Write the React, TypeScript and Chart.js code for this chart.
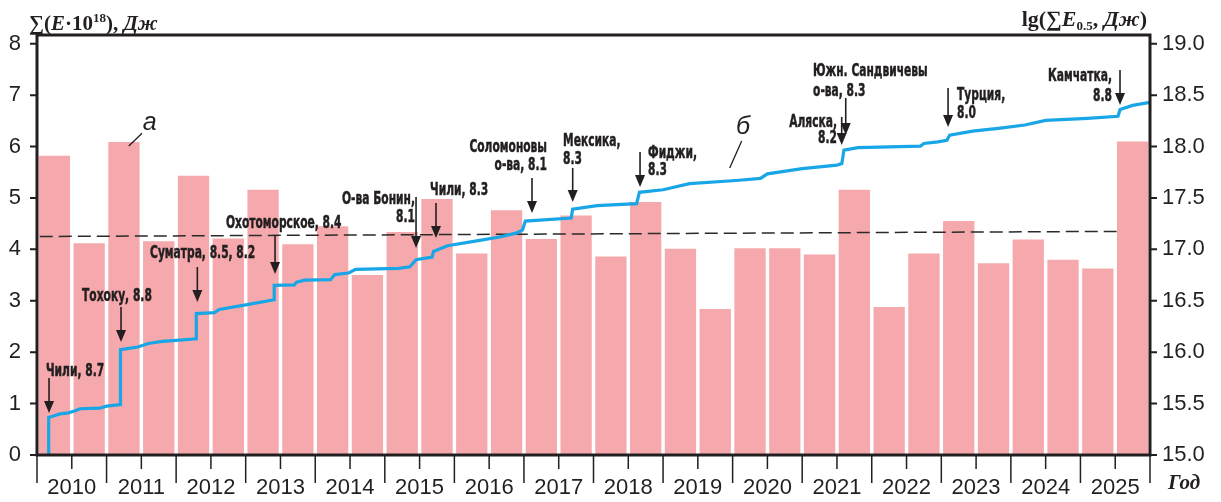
import React, { useEffect, useRef } from 'react';
import { Chart, registerables } from 'chart.js';

Chart.register(...registerables);

// ---- Data ----
const halfYearCenters = [
  2010.25, 2010.75, 2011.25, 2011.75, 2012.25, 2012.75, 2013.25, 2013.75,
  2014.25, 2014.75, 2015.25, 2015.75, 2016.25, 2016.75, 2017.25, 2017.75,
  2018.25, 2018.75, 2019.25, 2019.75, 2020.25, 2020.75, 2021.25, 2021.75,
  2022.25, 2022.75, 2023.25, 2023.75, 2024.25, 2024.75, 2025.25, 2025.75,
];
const halfYearEnergy = [
  5.82, 4.12, 6.09, 4.16, 5.43, 4.21, 5.16, 4.1,
  4.45, 3.5, 4.34, 4.98, 3.92, 4.76, 4.2, 4.66,
  3.86, 4.92, 4.01, 2.84, 4.02, 4.02, 3.9, 5.16,
  2.88, 3.92, 4.55, 3.73, 4.19, 3.8, 3.63, 6.1,
];

const cumTimes = [
  2010.168, 2010.168, 2010.26, 2010.33, 2010.45, 2010.55, 2010.62, 2010.9, 2011.0, 2011.2,
  2011.2, 2011.45, 2011.6, 2011.8, 2012.0, 2012.29,
  2012.29, 2012.55, 2012.62, 2013.0, 2013.41,
  2013.41, 2013.7, 2013.73, 2013.85, 2014.22, 2014.28, 2014.48, 2014.58, 2015.2, 2015.36,
  2015.45, 2015.68, 2015.7, 2015.9, 2016.3, 2016.65, 2016.9, 2016.98,
  2017.02, 2017.68, 2017.7, 2018.05, 2018.62, 2018.66, 2019.0, 2019.38, 2020.05, 2020.4,
  2020.5, 2021.0, 2021.5, 2021.57, 2021.6, 2021.8, 2022.7, 2022.75, 2022.95, 2023.08,
  2023.12, 2023.45, 2023.85, 2024.2, 2024.5, 2025.1, 2025.54, 2025.57, 2025.75, 2026.0,
];
const cumLogEnergy = [
  15.0, 15.365, 15.385, 15.4, 15.41, 15.43, 15.45, 15.455, 15.475, 15.49,
  16.025, 16.05, 16.085, 16.105, 16.115, 16.13,
  16.375, 16.385, 16.415, 16.46, 16.51,
  16.65, 16.655, 16.68, 16.7, 16.705, 16.755, 16.77, 16.805, 16.815, 16.83,
  16.9, 16.925, 16.98, 17.035, 17.08, 17.12, 17.16, 17.19,
  17.275, 17.305, 17.39, 17.425, 17.445, 17.555, 17.58, 17.64, 17.67, 17.69,
  17.735, 17.785, 17.82, 17.835, 17.965, 17.99, 18.005, 18.03, 18.045, 18.06,
  18.11, 18.15, 18.18, 18.21, 18.255, 18.275, 18.295, 18.36, 18.4, 18.43,
];

const meanTimes = [2010.04, 2025.52];
const meanEnergy = [4.25, 4.35];

const leftTicks = [0, 1, 2, 3, 4, 5, 6, 7, 8];
const rightTicks = [15.0, 15.5, 16.0, 16.5, 17.0, 17.5, 18.0, 18.5, 19.0];
const yearLabels = ['2010', '2011', '2012', '2013', '2014', '2015', '2016', '2017',
  '2018', '2019', '2020', '2021', '2022', '2023', '2024', '2025'];

// Earthquake annotations (text lines, text anchor in data units, arrow in data units)
const quakeLines = [
  ['Чили, 8.7'],
  ['Тохоку, 8.8'],
  ['Суматра, 8.5, 8.2'],
  ['Охотоморское, 8.4'],
  ['О-ва Бонин,', '8.1'],
  ['Чили, 8.3'],
  ['Соломоновы', 'о-ва, 8.1'],
  ['Мексика,', '8.3'],
  ['Фиджи,', '8.3'],
  ['Южн. Сандвичевы', 'о-ва, 8.3'],
  ['Аляска,', '8.2'],
  ['Турция,', '8.0'],
  ['Камчатка,', '8.8'],
];
const quakeTextX = [2010.129, 2010.647, 2011.625, 2012.717, 2015.434, 2015.65, 2017.332, 2017.562, 2018.784, 2021.156, 2021.501, 2023.226, 2025.454];
const quakeTextY = [1.634, 3.084, 3.92, 4.504, 4.981, 5.146, 5.992, 6.099, 5.875, 7.461, 6.469, 7.004, 7.364];
const quakeLineGap = [0, 0, 0, 0, 0.36, 0, 0.35, 0.34, 0.33, 0.38, 0.31, 0.36, 0.38];
const quakeAlign = ['left', 'left', 'left', 'left', 'right', 'left', 'right', 'left', 'left', 'left', 'right', 'left', 'right'];
const arrowX = [2010.173, 2011.208, 2012.305, 2013.422, 2015.449, 2015.736, 2017.116, 2017.701, 2018.669, 2021.626, 2021.568, 2023.097, 2025.569];
const arrowTop = [1.498, 2.879, 3.658, 4.28, 5.019, 4.903, 5.389, 5.584, 5.895, 6.946, 6.576, 7.14, 7.49];
const arrowBottom = [0.817, 2.198, 2.977, 3.521, 4.027, 4.222, 4.708, 4.922, 5.214, 6.226, 6.031, 6.381, 6.809];

const INK = '#231f20';
const BAR = '#f6a9ac';
const BLUE = '#19a6e6';
const NARROW = 'bold 18px "Liberation Sans Narrow", "DejaVu Sans Condensed", "Roboto Condensed", sans-serif';
const SERIF = '"Liberation Serif", "Times New Roman", serif';

type Run = { t: string; f: string; dy?: number };

function drawRuns(ctx: CanvasRenderingContext2D, runs: Run[], x: number, y: number, align: 'left' | 'right') {
  let total = 0;
  for (const r of runs) { ctx.font = r.f; total += ctx.measureText(r.t).width; }
  let cx = align === 'right' ? x - total : x;
  ctx.textAlign = 'left';
  ctx.textBaseline = 'alphabetic';
  for (const r of runs) {
    ctx.font = r.f;
    ctx.fillText(r.t, cx, y + (r.dy || 0));
    cx += ctx.measureText(r.t).width;
  }
}

const decorPlugin = {
  id: 'decor',
  afterDatasetsDraw(chart: any) {
    const { ctx, chartArea: a, scales } = chart;
    const xs = scales.x, yl = scales.y, yr = scales.y2;
    ctx.save();
    ctx.strokeStyle = INK;
    ctx.fillStyle = INK;

    // frame
    ctx.lineWidth = 3;
    ctx.strokeRect(a.left, a.top, a.right - a.left, a.bottom - a.top);

    // tick marks
    ctx.lineWidth = 2;
    ctx.beginPath();
    for (const v of leftTicks) {
      const p = yl.getPixelForValue(v);
      ctx.moveTo(a.left - 7, p); ctx.lineTo(a.left, p);
    }
    for (const v of rightTicks) {
      const p = yr.getPixelForValue(v);
      ctx.moveTo(a.right, p); ctx.lineTo(a.right + 7, p);
    }
    ctx.stroke();
    ctx.lineWidth = 1.5;
    ctx.beginPath();
    for (let i = 0; i <= yearLabels.length; i++) {
      const y0 = 2010 + i;
      const p = xs.getPixelForValue(y0);
      ctx.moveTo(p, a.bottom); ctx.lineTo(p, a.bottom + 28);
      if (i < yearLabels.length) {
        const m = xs.getPixelForValue(y0 + 0.5);
        ctx.moveTo(m, a.bottom); ctx.lineTo(m, a.bottom + 14);
      }
    }
    ctx.stroke();

    // annotations
    const sx = 0.66;
    for (let i = 0; i < quakeLines.length; i++) {
      const tx = xs.getPixelForValue(quakeTextX[i]);
      const lines = quakeLines[i];
      ctx.font = NARROW;
      ctx.textBaseline = 'middle';
      ctx.textAlign = quakeAlign[i] as CanvasTextAlign;
      ctx.lineWidth = 0.5;
      lines.forEach((ln, k) => {
        const ty = yl.getPixelForValue(quakeTextY[i] - k * quakeLineGap[i]);
        ctx.save();
        ctx.translate(tx, ty);
        ctx.scale(sx, 1);
        ctx.fillText(ln, 0, 0);
        ctx.strokeText(ln, 0, 0);
        ctx.restore();
      });
      const ax = xs.getPixelForValue(arrowX[i]);
      const at = yl.getPixelForValue(arrowTop[i]);
      const ab = yl.getPixelForValue(arrowBottom[i]);
      ctx.lineWidth = 1.6;
      ctx.beginPath();
      ctx.moveTo(ax, at); ctx.lineTo(ax, ab - 8);
      ctx.stroke();
      ctx.beginPath();
      ctx.moveTo(ax - 5, ab - 12); ctx.lineTo(ax + 5, ab - 12); ctx.lineTo(ax, ab);
      ctx.closePath();
      ctx.fill();
    }

    // series letters with leaders
    ctx.lineWidth = 1.3;
    ctx.beginPath();
    ctx.moveTo(xs.getPixelForValue(2011.32), yl.getPixelForValue(6.01));
    ctx.lineTo(xs.getPixelForValue(2011.51), yl.getPixelForValue(6.26));
    ctx.moveTo(xs.getPixelForValue(2019.958), yl.getPixelForValue(5.584));
    ctx.lineTo(xs.getPixelForValue(2020.13), yl.getPixelForValue(6.109));
    ctx.stroke();
    ctx.font = 'italic 25px "Liberation Sans", Arial, sans-serif';
    ctx.textAlign = 'left';
    ctx.textBaseline = 'alphabetic';
    ctx.fillText('а', xs.getPixelForValue(2011.52), yl.getPixelForValue(6.32));
    ctx.fillText('б', xs.getPixelForValue(2020.05), yl.getPixelForValue(6.245));

    // axis titles
    const b = `bold 21px ${SERIF}`;
    const bi = `italic bold 21px ${SERIF}`;
    const sup = `bold 13px ${SERIF}`;
    drawRuns(ctx, [
      { t: '∑(', f: b }, { t: 'E', f: bi }, { t: '·10', f: b }, { t: '18', f: sup, dy: -8 },
      { t: '), ', f: b }, { t: 'Дж', f: bi },
    ], 29, 30, 'left');
    const b2 = `bold 22px ${SERIF}`;
    const bi2 = `italic bold 22px ${SERIF}`;
    const sub = `bold 13px ${SERIF}`;
    drawRuns(ctx, [
      { t: 'lg(∑', f: b2 }, { t: 'E', f: bi2 }, { t: '0.5', f: sub, dy: 4 },
      { t: ', ', f: b2 }, { t: 'Дж', f: bi2 }, { t: ')', f: b2 },
    ], 1147, 26, 'right');
    drawRuns(ctx, [{ t: 'Год', f: `italic bold 21px ${SERIF}` }], 1168, 489, 'left');

    ctx.restore();
  },
};

export default function App() {
  const ref = useRef<HTMLCanvasElement | null>(null);
  useEffect(() => {
    if (!ref.current) return;
    const tickFont = { family: '"Liberation Sans", Arial, sans-serif', size: 22 };
    const chart = new Chart(ref.current, {
      type: 'bar',
      data: {
        datasets: [
          {
            type: 'line',
            data: cumTimes.map((t, i) => ({ x: t, y: cumLogEnergy[i] })),
            yAxisID: 'y2',
            borderColor: BLUE,
            borderWidth: 3.2,
            pointRadius: 0,
            tension: 0,
            order: 1,
          } as any,
          {
            type: 'line',
            data: meanTimes.map((t, i) => ({ x: t, y: meanEnergy[i] })),
            yAxisID: 'y',
            borderColor: '#2a2a2a',
            borderWidth: 1.5,
            borderDash: [13, 6],
            pointRadius: 0,
            order: 2,
          } as any,
          {
            type: 'bar',
            data: halfYearCenters.map((t, i) => ({ x: t, y: halfYearEnergy[i] })),
            yAxisID: 'y',
            backgroundColor: BAR,
            categoryPercentage: 1,
            barPercentage: 0.9,
            order: 3,
          } as any,
        ],
      },
      options: {
        animation: false,
        responsive: false,
        maintainAspectRatio: false,
        layout: { padding: { top: 35, left: 0, right: 0, bottom: 0 } },
        plugins: { legend: { display: false }, tooltip: { enabled: false }, title: { display: false } },
        scales: {
          x: {
            type: 'linear',
            min: 2010,
            max: 2026,
            offset: false,
            grid: { display: false, drawTicks: false },
            border: { display: false },
            afterFit: (s: any) => { s.height = 47; },
            afterBuildTicks: (s: any) => {
              s.ticks = yearLabels.map((_, i) => ({ value: 2010.5 + i }));
            },
            ticks: {
              autoSkip: false,
              maxRotation: 0,
              padding: 20,
              color: INK,
              font: tickFont,
              callback: (v: any) => {
                const idx = Math.round(Number(v) - 2010.5);
                return yearLabels[idx] ?? '';
              },
            },
          },
          y: {
            position: 'left',
            min: 0,
            max: 8.17,
            grid: { display: false, drawTicks: false },
            border: { display: false },
            afterFit: (s: any) => { s.width = 37; },
            afterBuildTicks: (s: any) => { s.ticks = leftTicks.map((v) => ({ value: v })); },
            ticks: { padding: 16, color: INK, font: tickFont, includeBounds: false },
          },
          y2: {
            position: 'right',
            min: 15,
            max: 19.085,
            grid: { display: false, drawTicks: false },
            border: { display: false },
            afterFit: (s: any) => { s.width = 71; },
            afterBuildTicks: (s: any) => { s.ticks = rightTicks.map((v) => ({ value: v })); },
            ticks: {
              padding: 12,
              color: INK,
              font: tickFont,
              includeBounds: false,
              callback: (v: any) => Number(v).toFixed(1),
            },
          },
        },
      },
      plugins: [decorPlugin],
    });
    return () => chart.destroy();
  }, []);
  return (
    <div style={{ position: 'absolute', left: 0, top: 0, width: 1221, height: 502, background: '#fff' }}>
      <canvas ref={ref} width={1221} height={502} style={{ display: 'block', width: 1221, height: 502 }} />
    </div>
  );
}
